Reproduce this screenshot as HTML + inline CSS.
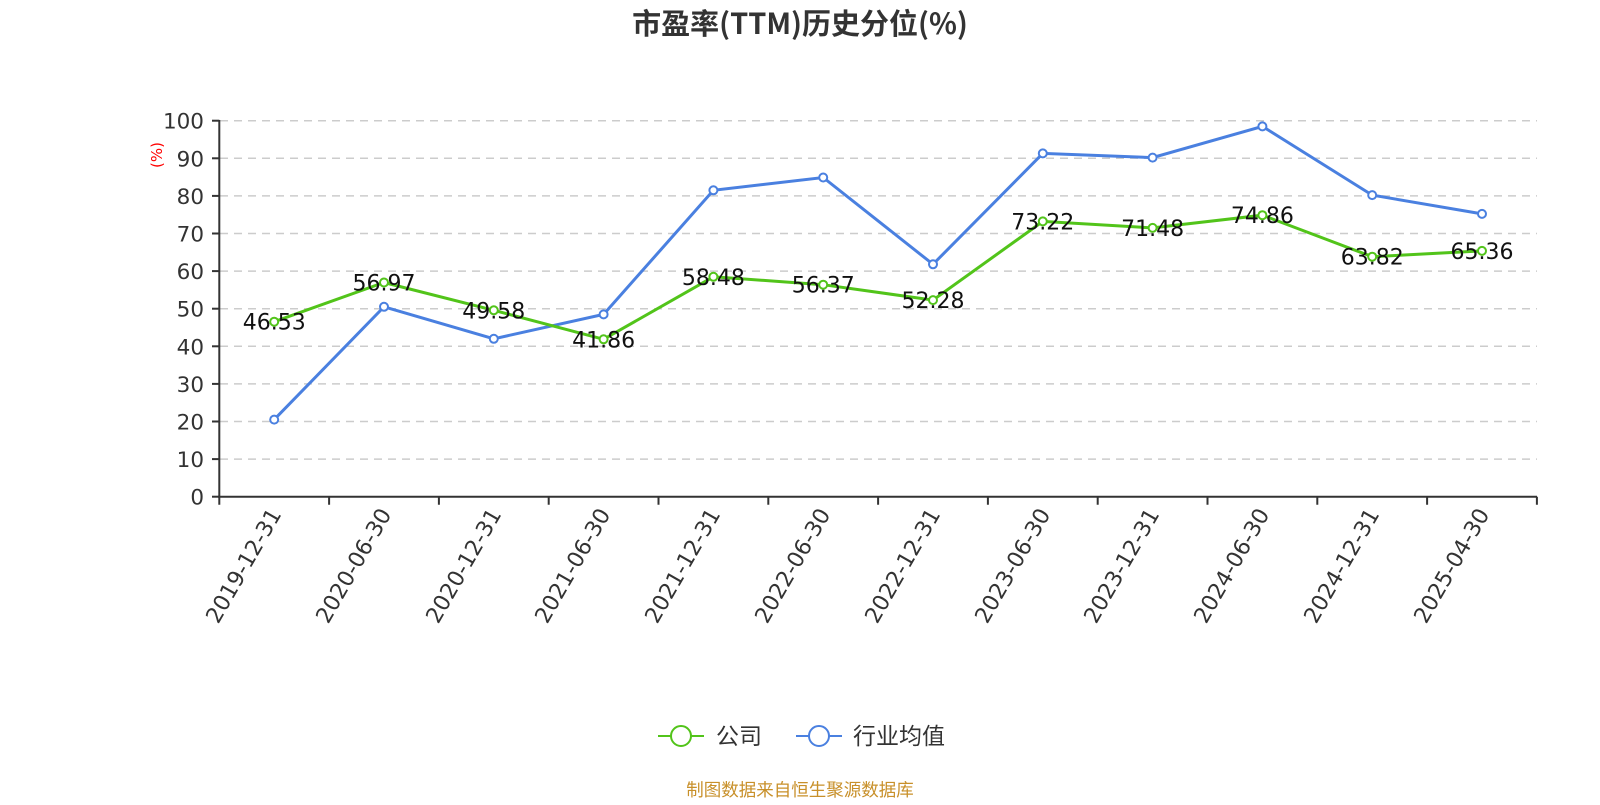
<!DOCTYPE html>
<html><head><meta charset="utf-8"><style>
body{margin:0;background:#fff}
svg text{font-family:"DejaVu Sans","Noto Sans CJK SC",sans-serif}
svg text.cjk{font-family:"Noto Sans CJK SC","DejaVu Sans",sans-serif}
</style></head><body>
<svg width="1600" height="800" viewBox="0 0 1600 800" xmlns="http://www.w3.org/2000/svg">
<text class="cjk" x="800" y="34" text-anchor="middle" font-size="29" font-weight="bold" fill="#333">市盈率(TTM)历史分位(%)</text>
<g stroke="#ccc" stroke-width="1.5" stroke-dasharray="8,6">
<line x1="220" x2="1537" y1="120.7" y2="120.7"/>
<line x1="220" x2="1537" y1="158.3" y2="158.3"/>
<line x1="220" x2="1537" y1="195.9" y2="195.9"/>
<line x1="220" x2="1537" y1="233.5" y2="233.5"/>
<line x1="220" x2="1537" y1="271.1" y2="271.1"/>
<line x1="220" x2="1537" y1="308.7" y2="308.7"/>
<line x1="220" x2="1537" y1="346.3" y2="346.3"/>
<line x1="220" x2="1537" y1="383.9" y2="383.9"/>
<line x1="220" x2="1537" y1="421.5" y2="421.5"/>
<line x1="220" x2="1537" y1="459.1" y2="459.1"/>
</g>
<g stroke="#333" stroke-width="2">
<line x1="219.3" y1="120" x2="219.3" y2="497"/>
<line x1="212" y1="120.7" x2="219.3" y2="120.7"/><line x1="212" y1="158.3" x2="219.3" y2="158.3"/><line x1="212" y1="195.9" x2="219.3" y2="195.9"/><line x1="212" y1="233.5" x2="219.3" y2="233.5"/><line x1="212" y1="271.1" x2="219.3" y2="271.1"/><line x1="212" y1="308.7" x2="219.3" y2="308.7"/><line x1="212" y1="346.3" x2="219.3" y2="346.3"/><line x1="212" y1="383.9" x2="219.3" y2="383.9"/><line x1="212" y1="421.5" x2="219.3" y2="421.5"/><line x1="212" y1="459.1" x2="219.3" y2="459.1"/><line x1="212" y1="496.7" x2="219.3" y2="496.7"/>
<line x1="218" y1="496.7" x2="1537" y2="496.7"/>
<path d="M219.3 496.7v8M329.1 496.7v8M438.9 496.7v8M548.7 496.7v8M658.5 496.7v8M768.3 496.7v8M878.1 496.7v8M987.9 496.7v8M1097.7 496.7v8M1207.5 496.7v8M1317.3 496.7v8M1427.1 496.7v8M1536.9 496.7v8"/>
</g>
<g font-size="21.5" fill="#333" text-anchor="end">
<text x="204" y="128.7">100</text><text x="204" y="166.3">90</text><text x="204" y="203.9">80</text><text x="204" y="241.5">70</text><text x="204" y="279.1">60</text><text x="204" y="316.7">50</text><text x="204" y="354.3">40</text><text x="204" y="391.9">30</text><text x="204" y="429.5">20</text><text x="204" y="467.1">10</text><text x="204" y="504.7">0</text>
</g>
<text transform="translate(162,155) rotate(-90)" text-anchor="middle" font-size="15" fill="red">(%)</text>
<g font-size="22" fill="#333" text-anchor="end">
<text transform="translate(282,514) rotate(-60)">2019-12-31</text>
<text transform="translate(392,514) rotate(-60)">2020-06-30</text>
<text transform="translate(502,514) rotate(-60)">2020-12-31</text>
<text transform="translate(611,514) rotate(-60)">2021-06-30</text>
<text transform="translate(721,514) rotate(-60)">2021-12-31</text>
<text transform="translate(831,514) rotate(-60)">2022-06-30</text>
<text transform="translate(941,514) rotate(-60)">2022-12-31</text>
<text transform="translate(1051,514) rotate(-60)">2023-06-30</text>
<text transform="translate(1160,514) rotate(-60)">2023-12-31</text>
<text transform="translate(1270,514) rotate(-60)">2024-06-30</text>
<text transform="translate(1380,514) rotate(-60)">2024-12-31</text>
<text transform="translate(1490,514) rotate(-60)">2025-04-30</text>
</g>
<polyline fill="none" stroke="#4a80e0" stroke-width="3" points="274.2,419.6 384,306.8 493.8,338.8 603.6,314.4 713.4,190.3 823.2,177.5 933,264.3 1042.8,153.4 1152.6,157.6 1262.4,126.4 1372.2,195.1 1482,213.9"/>
<g fill="#fff" stroke="#4a80e0" stroke-width="2">
<circle cx="274.2" cy="419.6" r="4"/><circle cx="384" cy="306.8" r="4"/><circle cx="493.8" cy="338.8" r="4"/><circle cx="603.6" cy="314.4" r="4"/><circle cx="713.4" cy="190.3" r="4"/><circle cx="823.2" cy="177.5" r="4"/><circle cx="933" cy="264.3" r="4"/><circle cx="1042.8" cy="153.4" r="4"/><circle cx="1152.6" cy="157.6" r="4"/><circle cx="1262.4" cy="126.4" r="4"/><circle cx="1372.2" cy="195.1" r="4"/><circle cx="1482" cy="213.9" r="4"/>
</g>
<polyline fill="none" stroke="#52c41a" stroke-width="3" points="274.2,321.7 384,282.5 493.8,310.3 603.6,339.3 713.4,276.8 823.2,284.7 933,300.1 1042.8,221.4 1152.6,227.9 1262.4,215.2 1372.2,256.7 1482,250.9"/>
<g fill="#fff" stroke="#52c41a" stroke-width="2">
<circle cx="274.2" cy="321.7" r="4"/><circle cx="384" cy="282.5" r="4"/><circle cx="493.8" cy="310.3" r="4"/><circle cx="603.6" cy="339.3" r="4"/><circle cx="713.4" cy="276.8" r="4"/><circle cx="823.2" cy="284.7" r="4"/><circle cx="933" cy="300.1" r="4"/><circle cx="1042.8" cy="221.4" r="4"/><circle cx="1152.6" cy="227.9" r="4"/><circle cx="1262.4" cy="215.2" r="4"/><circle cx="1372.2" cy="256.7" r="4"/><circle cx="1482" cy="250.9" r="4"/>
</g>
<g font-size="22" fill="#111" text-anchor="middle">
<text x="274.2" y="329.7">46.53</text><text x="384" y="290.5">56.97</text><text x="493.8" y="318.3">49.58</text><text x="603.6" y="347.3">41.86</text><text x="713.4" y="284.8">58.48</text><text x="823.2" y="292.7">56.37</text><text x="933" y="308.1">52.28</text><text x="1042.8" y="229.4">73.22</text><text x="1152.6" y="235.9">71.48</text><text x="1262.4" y="223.2">74.86</text><text x="1372.2" y="264.7">63.82</text><text x="1482" y="258.9">65.36</text>
</g>
<line x1="658" y1="736" x2="704" y2="736" stroke="#52c41a" stroke-width="2"/>
<circle cx="681" cy="736" r="10" fill="#fff" stroke="#52c41a" stroke-width="2"/>
<text class="cjk" x="716" y="744" font-size="23" fill="#333">公司</text>
<line x1="796" y1="736" x2="842" y2="736" stroke="#4a80e0" stroke-width="2"/>
<circle cx="819" cy="736" r="10" fill="#fff" stroke="#4a80e0" stroke-width="2"/>
<text class="cjk" x="853" y="744" font-size="23" fill="#333">行业均值</text>
<text class="cjk" x="800" y="796" text-anchor="middle" font-size="17.5" fill="#c8902a">制图数据来自恒生聚源数据库</text>
</svg>
</body></html>
